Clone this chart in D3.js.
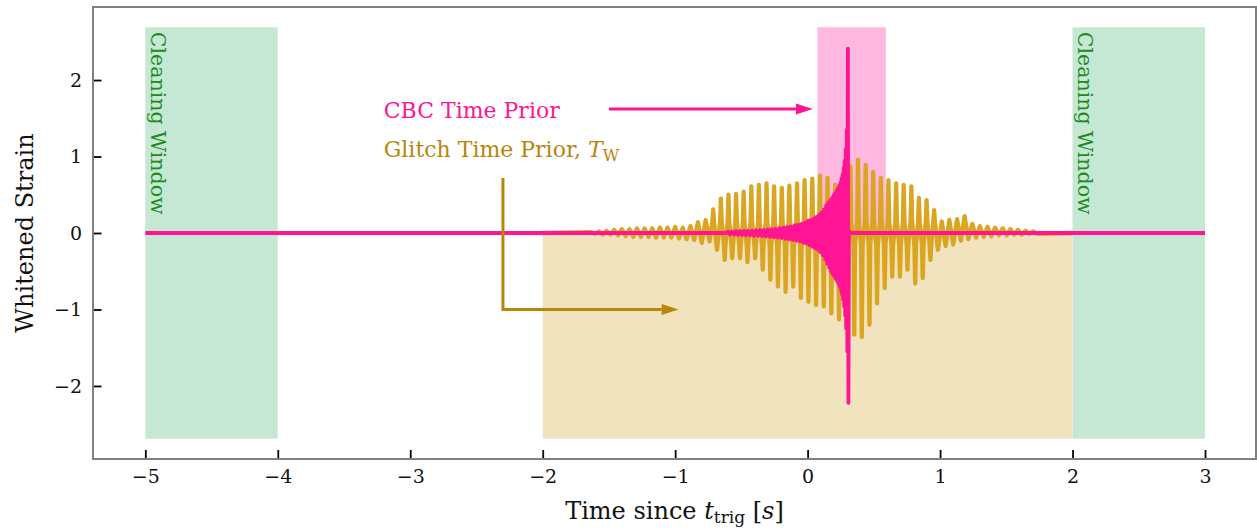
<!DOCTYPE html>
<html>
<head>
<meta charset="utf-8">
<script src="https://cdn.jsdelivr.net/npm/d3@7"></script>
<style>
  body { margin: 0; background: #fff; }
  svg { display: block; }
  text { font-family: "DejaVu Serif", "Liberation Serif", serif; }
</style>
</head>
<body>
<svg></svg>
<script>
const width = 1257
const height = 529

// ticks
const xTicks = [-5, -4, -3, -2, -1, 0, 1, 2, 3]
const yTicks = [-2, -1, 0, 1, 2]

// shaded windows
const cleanWindows = [[-5, -4], [2, 3]]
const cbcPrior = [0.075, 0.59]
const glitchPrior = [-2, 2]
const bandTop = 2.69
const bandBottom = -2.69

// glitch: peak / trough times and values
const glitchPeakT = [-1.633,-1.575,-1.518,-1.460,-1.403,-1.345,-1.288,-1.230,-1.173,-1.115,-1.058,-1.000,-0.943,-0.885,-0.828,
  -0.770,-0.713,-0.655,-0.598,-0.540,-0.483,-0.425,-0.368,-0.310,-0.253,-0.195,-0.138,-0.080,-0.023,0.035,
  0.093,0.150,0.208,0.265,0.323,0.380,0.438,0.495,0.553,0.610,0.668,0.725,0.783,0.840,0.898,
  0.955,1.013,1.070,1.128,1.185,1.243,1.300,1.358,1.415,1.473,1.530,1.588,1.645,1.703]
const glitchUp = [0.01,0.02,0.03,0.04,0.05,0.05,0.06,0.06,0.06,0.07,0.07,0.08,0.07,0.09,0.14,
  0.17,0.31,0.45,0.50,0.51,0.54,0.61,0.63,0.65,0.61,0.59,0.62,0.65,0.69,0.71,
  0.75,0.72,0.63,0.75,0.87,0.96,0.89,0.80,0.72,0.69,0.65,0.63,0.61,0.46,0.43,
  0.30,0.15,0.17,0.18,0.22,0.12,0.09,0.08,0.07,0.06,0.05,0.04,0.03,0.02]
const glitchTroughT = [-1.604,-1.546,-1.489,-1.431,-1.374,-1.316,-1.259,-1.201,-1.144,-1.086,-1.029,-0.971,-0.914,-0.856,-0.799,
  -0.741,-0.684,-0.626,-0.569,-0.511,-0.454,-0.396,-0.339,-0.281,-0.224,-0.166,-0.109,-0.051,0.006,0.064,
  0.122,0.179,0.237,0.294,0.352,0.409,0.467,0.524,0.582,0.639,0.697,0.754,0.812,0.869,0.927,
  0.984,1.042,1.099,1.157,1.214,1.272,1.329,1.387,1.444,1.502,1.559,1.617,1.674,1.732]
const glitchDown = [-0.01,-0.02,-0.02,-0.03,-0.04,-0.05,-0.05,-0.05,-0.06,-0.06,-0.06,-0.07,-0.08,-0.09,-0.13,
  -0.11,-0.22,-0.35,-0.33,-0.33,-0.38,-0.33,-0.48,-0.61,-0.70,-0.77,-0.70,-0.85,-0.90,-0.94,
  -0.96,-1.05,-1.13,-1.24,-1.33,-1.36,-1.20,-0.92,-0.72,-0.57,-0.57,-0.48,-0.66,-0.59,-0.35,
  -0.22,-0.17,-0.15,-0.10,-0.08,-0.06,-0.05,-0.04,-0.03,-0.03,-0.02,-0.02,-0.01,-0.01]
// level of the dense core band around zero
const glitchCore = 0.15

// CBC chirp extrema
const chirpT = [-5.0,-0.615,
  -0.600,-0.585,-0.570,-0.555,-0.540,-0.525,-0.510,-0.495,-0.480,-0.465,-0.450,-0.435,-0.420,-0.405,-0.390,-0.375,
  -0.360,-0.345,-0.330,-0.315,-0.300,-0.285,-0.270,-0.255,-0.240,-0.225,-0.210,-0.196,-0.182,-0.168,-0.154,-0.140,
  -0.126,-0.112,-0.098,-0.085,-0.072,-0.059,-0.046,-0.033,-0.020,-0.008,0.004,0.015,0.026,0.037,0.048,0.058,
  0.068,0.078,0.088,0.097,0.106,0.115,0.124,0.132,0.140,0.148,0.156,0.163,0.170,0.177,0.184,0.190,
  0.196,0.202,0.208,0.213,0.218,0.223,0.228,0.233,0.238,0.243,0.248,0.252,0.256,0.260,0.264,0.268,
  0.272,0.276,0.280,0.284,0.288,0.292,0.296,0.300,0.304,0.308,0.312,0.318,3.0]
const chirpV = [0,0,
  0.02,-0.02,0.02,-0.02,0.025,-0.025,0.025,-0.025,0.03,-0.03,0.03,-0.03,0.03,-0.035,0.035,-0.035,
  0.04,-0.04,0.04,-0.045,0.045,-0.05,0.05,-0.055,0.055,-0.06,0.065,-0.065,0.07,-0.075,0.08,-0.08,
  0.085,-0.09,0.10,-0.10,0.11,-0.11,0.12,-0.13,0.14,-0.14,0.16,-0.16,0.17,-0.18,0.19,-0.20,
  0.21,-0.22,0.24,-0.25,0.27,-0.29,0.31,-0.34,0.36,-0.40,0.40,-0.45,0.43,-0.50,0.46,-0.54,
  0.49,-0.57,0.52,-0.60,0.55,-0.63,0.58,-0.66,0.62,-0.70,0.66,-0.75,0.71,-0.80,0.77,-0.87,
  0.85,-0.96,0.95,-1.08,1.10,-1.25,1.35,-1.55,2.41,-2.22,0.03,0,0]

// annotations
const cbcArrow = [[-1.50, 1.62], [0.04, 1.62]]
const glitchArrow = [[-2.30, 0.72], [-2.30, -1.0], [-0.974, -1.0]]
const cbcLabel = [-3.2, 1.50]
const glitchLabel = [-3.2, 1.0]
const cleanLabelX = [-4.96, 2.04]
const cleanLabelY = 2.63

const colors = {
  clean: "#c5e8d5", cleanText: "#1e8a1e",
  cbc: "#ff1493", cbcBand: "#ffb8df",
  glitch: "#daa520", glitchBand: "#f2e3bf", glitchText: "#b8860b",
  frame: "#808080"
}

const margin = { left: 93, right: 1, top: 7, bottom: 70 }

const svg = d3.select("svg")
  .attr("width", width)
  .attr("height", height)

const x = d3.scaleLinear().domain([-5.395, 3.385]).range([margin.left, width - margin.right])
const y = d3.scaleLinear().domain([-2.955, 2.955]).range([height - margin.bottom, margin.top])

const fmt = d => d < 0 ? "\u2212" + Math.abs(d) : String(d)

// bands
svg.selectAll("rect.clean")
  .data(cleanWindows)
  .enter().append("rect")
    .attr("class", "clean")
    .attr("x", d => x(d[0]))
    .attr("width", d => x(d[1]) - x(d[0]))
    .attr("y", y(bandTop))
    .attr("height", y(bandBottom) - y(bandTop))
    .style("fill", colors.clean)

svg.append("rect")
  .attr("x", x(cbcPrior[0]))
  .attr("width", x(cbcPrior[1]) - x(cbcPrior[0]))
  .attr("y", y(bandTop))
  .attr("height", y(0) - y(bandTop))
  .style("fill", colors.cbcBand)

svg.append("rect")
  .attr("x", x(glitchPrior[0]))
  .attr("width", x(glitchPrior[1]) - x(glitchPrior[0]))
  .attr("y", y(0))
  .attr("height", y(bandBottom) - y(0))
  .style("fill", colors.glitchBand)

// glitch waveform: each extremum drawn as a narrow spike out of the core band
const dt = 0.006
function spike(t, v, core) {
  if (Math.abs(v) < 2 * core) return [[t, v]]
  const s = v > 0 ? core : -core
  return [[t - dt, s], [t, v], [t + dt, s]]
}
const glitchPts = [[glitchPrior[0], 0]]
  .concat(d3.zip(glitchPeakT, glitchUp, glitchTroughT, glitchDown)
    .flatMap(d => spike(d[0], d[1], glitchCore).concat(spike(d[2], d[3], glitchCore))))
  .concat([[glitchPrior[1], 0]])

const line = d3.line().x(d => x(d[0])).y(d => y(d[1]))

svg.append("path")
  .attr("d", line(glitchPts))
  .style("fill", "none")
  .style("stroke", colors.glitch)
  .style("stroke-width", 4.3)
  .style("stroke-linejoin", "round")
  .style("stroke-linecap", "round")

// CBC chirp
svg.append("path")
  .attr("d", line(d3.zip(chirpT, chirpV)))
  .style("fill", "none")
  .style("stroke", colors.cbc)
  .style("stroke-width", 3.8)
  .style("stroke-linejoin", "round")

// arrows
function arrow(pts, color) {
  const p = pts.map(d => [x(d[0]), y(d[1])])
  const end = p[p.length - 1], prev = p[p.length - 2]
  const ang = Math.atan2(end[1] - prev[1], end[0] - prev[0])
  const hl = 17, hw = 5.5
  const base = [end[0] - hl * Math.cos(ang), end[1] - hl * Math.sin(ang)]
  const shaft = p.slice(0, -1).concat([base])
  svg.append("path")
    .attr("d", d3.line()(shaft))
    .style("fill", "none")
    .style("stroke", color)
    .style("stroke-width", 3)
  svg.append("path")
    .attr("d", d3.line()([
      end,
      [base[0] - hw * Math.sin(ang), base[1] + hw * Math.cos(ang)],
      [base[0] + hw * Math.sin(ang), base[1] - hw * Math.cos(ang)]
    ]) + "Z")
    .style("fill", color)
}
arrow(cbcArrow, colors.cbc)
arrow(glitchArrow, colors.glitchText)

// labels
svg.append("text")
  .attr("x", x(cbcLabel[0]))
  .attr("y", y(cbcLabel[1]))
  .style("font-size", "22px")
  .style("fill", colors.cbc)
  .text("CBC Time Prior")

const gl = svg.append("text")
  .attr("x", x(glitchLabel[0]))
  .attr("y", y(glitchLabel[1]))
  .style("font-size", "22px")
  .style("fill", colors.glitchText)
gl.append("tspan").text("Glitch Time Prior, ")
gl.append("tspan").style("font-style", "italic").text("T")
gl.append("tspan").attr("dy", 4).style("font-size", "16px").text("W")

svg.selectAll("text.clean")
  .data(cleanLabelX)
  .enter().append("text")
    .attr("class", "clean")
    .attr("transform", d => "translate(" + x(d) + "," + y(cleanLabelY) + ") rotate(90)")
    .style("font-size", "20.5px")
    .style("fill", colors.cleanText)
    .text("Cleaning Window")

// axes
svg.append("g")
  .attr("transform", "translate(0," + y.range()[0] + ")")
  .call(d3.axisBottom(x).tickValues(xTicks).tickFormat(fmt).tickSizeInner(-9).tickSizeOuter(0).tickPadding(11))
svg.append("g")
  .attr("transform", "translate(" + x.range()[0] + ",0)")
  .call(d3.axisLeft(y).tickValues(yTicks).tickFormat(fmt).tickSizeInner(-8.5).tickSizeOuter(0).tickPadding(11))

svg.selectAll(".domain").remove()
svg.selectAll(".tick line").style("stroke", "#000").style("stroke-width", 1.8)
svg.selectAll(".tick text")
  .style("font-family", "\"DejaVu Serif\", serif")
  .style("font-size", "19px")
  .style("fill", "#111")

// frame
svg.append("rect")
  .attr("x", x.range()[0])
  .attr("y", y.range()[1])
  .attr("width", x.range()[1] - x.range()[0])
  .attr("height", y.range()[0] - y.range()[1])
  .style("fill", "none")
  .style("stroke", colors.frame)
  .style("stroke-width", 2)

// axis titles
const xl = svg.append("text")
  .attr("x", (x.range()[0] + x.range()[1]) / 2)
  .attr("y", 519)
  .attr("text-anchor", "middle")
  .style("font-size", "24px")
  .style("fill", "#111")
xl.append("tspan").text("Time since ")
xl.append("tspan").style("font-style", "italic").text("t")
xl.append("tspan").attr("dy", 4).style("font-size", "17px").text("trig")
xl.append("tspan").attr("dy", -4).text(" [")
xl.append("tspan").style("font-style", "italic").text("s")
xl.append("tspan").text("]")

svg.append("text")
  .attr("transform", "translate(33," + y(0) + ") rotate(-90)")
  .attr("text-anchor", "middle")
  .style("font-size", "24px")
  .style("fill", "#111")
  .text("Whitened Strain")
</script>
</body>
</html>
